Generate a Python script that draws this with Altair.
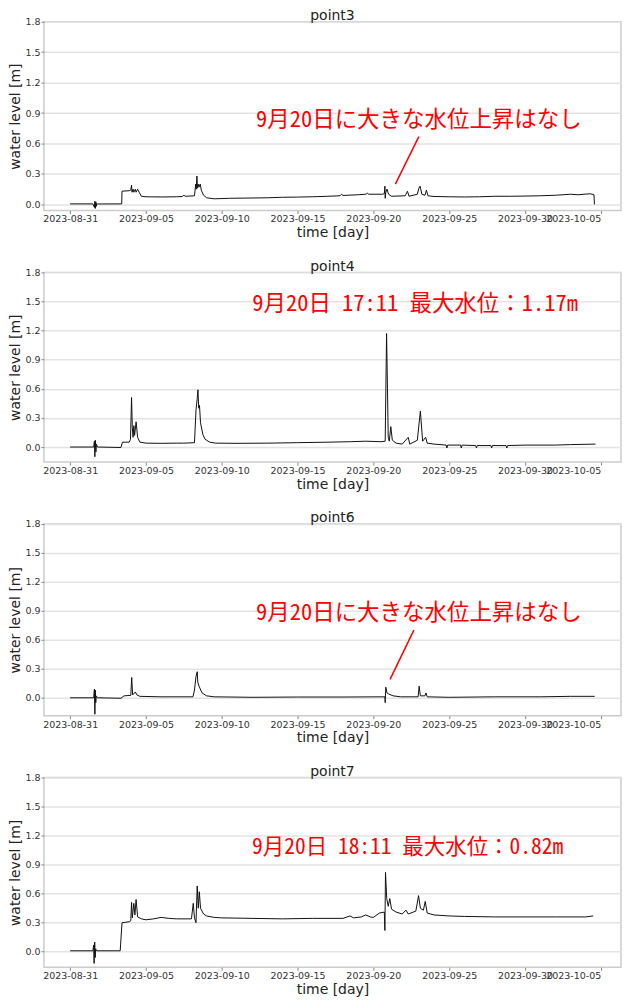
import altair as alt
import pandas as pd

# ---------------- data (days after 2023-08-31 00:00, water level in m) ----------------
p3_day = [0, 1.5, 1.6, 1.63, 1.66, 1.69, 1.72, 1.75, 1.8, 3.4, 3.42, 3.9, 4.0, 4.05, 4.08,
          4.15, 4.2, 4.3, 4.35, 4.45, 4.55, 4.7, 5.0, 6.0, 7.0, 7.4, 7.5, 7.6, 8.2, 8.28,
          8.32, 8.36, 8.4, 8.45, 8.5, 8.58, 8.65, 8.8, 9.0, 9.5, 10.5, 12, 13, 14, 15, 16,
          17, 17.8, 17.9, 18.0, 19, 19.5, 19.6, 19.7, 20.6, 20.72, 20.76, 20.78, 20.82, 20.9,
          21.0, 21.2, 22.1, 22.25, 22.35, 22.9, 23.0, 23.08, 23.2, 23.4, 23.5, 23.6, 24.0,
          25, 26, 27, 28, 29, 30, 31, 32, 33, 33.5, 34.3, 34.55, 34.58]
p3_level = [0.005, 0.005, -0.03, 0.03, -0.04, 0.025, -0.02, 0.01, 0.004, 0.005, 0.13, 0.135,
            0.14, 0.19, 0.12, 0.15, 0.12, 0.15, 0.12, 0.15, 0.12, 0.08, 0.075, 0.073, 0.075,
            0.078, 0.09, 0.08, 0.085, 0.2, 0.15, 0.28, 0.16, 0.2, 0.17, 0.2, 0.14, 0.09, 0.065,
            0.055, 0.06, 0.063, 0.065, 0.07, 0.072, 0.075, 0.08, 0.085, 0.1, 0.088, 0.095, 0.1,
            0.11, 0.1, 0.1, 0.105, 0.18, 0.06, 0.12, 0.15, 0.1, 0.08, 0.085, 0.13, 0.08, 0.1,
            0.16, 0.18, 0.1, 0.09, 0.14, 0.085, 0.078, 0.075, 0.073, 0.075, 0.08, 0.08, 0.082,
            0.085, 0.09, 0.1, 0.095, 0.105, 0.095, 0.0]

p4_day = [0, 1.55, 1.6, 1.63, 1.66, 1.7, 1.73, 1.8, 3.35, 3.45, 3.9, 3.98, 4.05, 4.1, 4.15,
          4.2, 4.25, 4.35, 4.45, 4.6, 5.0, 6.0, 7.0, 7.5, 8.2, 8.3, 8.38, 8.43, 8.48, 8.53,
          8.6, 8.75, 8.9, 9.2, 9.6, 11, 13, 15, 17, 18.5, 19.5, 20.5, 20.78, 20.87, 20.93,
          20.98, 21.05, 21.15, 21.25, 21.5, 21.9, 22.3, 22.4, 22.9, 23.1, 23.25, 23.45, 23.55,
          24.0, 24.8, 24.85, 24.9, 25.75, 25.8, 25.85, 26.75, 26.8, 26.85, 27.75, 27.8, 27.85,
          28.75, 28.8, 28.85, 30, 32, 33, 34.65]
p4_level = [0.0, 0.0, 0.06, -0.1, 0.07, -0.05, 0.03, 0.0, -0.005, 0.05, 0.05, 0.08, 0.51, 0.2,
            0.1, 0.22, 0.12, 0.26, 0.1, 0.05, 0.04, 0.038, 0.04, 0.04, 0.045, 0.38, 0.5, 0.59,
            0.4, 0.43, 0.25, 0.13, 0.08, 0.05, 0.04, 0.038, 0.04, 0.045, 0.05, 0.055, 0.06,
            0.055, 0.06, 1.17, 0.6, 0.1, 0.06, 0.21, 0.07, 0.04, 0.03, 0.1, 0.03, 0.07, 0.37,
            0.06, 0.1, 0.04, 0.03, 0.02, -0.01, 0.02, 0.02, -0.01, 0.02, 0.015, -0.01, 0.015,
            0.015, -0.01, 0.015, 0.015, -0.01, 0.015, 0.02, 0.02, 0.025, 0.03]

p6_day = [0, 1.55, 1.6, 1.63, 1.66, 1.69, 1.72, 1.8, 3.35, 3.55, 4.0, 4.06, 4.12, 4.3, 4.4,
          4.6, 6, 8.1, 8.2, 8.3, 8.38, 8.42, 8.5, 8.7, 9.0, 9.5, 12, 15, 18, 20.5, 20.76,
          20.78, 20.82, 20.9, 21.0, 21.3, 21.8, 22.95, 23.02, 23.1, 23.4, 23.47, 23.55, 25,
          28, 31, 33, 34.6]
p6_level = [0.0, 0.0, 0.09, -0.17, 0.08, -0.05, 0.02, 0.0, -0.005, 0.02, 0.025, 0.21, 0.03,
            0.06, 0.03, 0.015, 0.01, 0.01, 0.08, 0.22, 0.27, 0.16, 0.12, 0.05, 0.02, 0.01,
            0.005, 0.008, 0.008, 0.01, 0.01, -0.05, 0.11, 0.05, 0.04, 0.02, 0.01, 0.01, 0.12,
            0.02, 0.02, 0.05, 0.01, 0.005, 0.01, 0.01, 0.015, 0.015]

p7_day = [0, 1.5, 1.55, 1.58, 1.62, 1.65, 1.68, 1.75, 3.3, 3.42, 3.9, 4.0, 4.05, 4.1, 4.2,
          4.27, 4.35, 4.45, 4.7, 5.0, 5.5, 6.0, 6.5, 7.0, 8.0, 8.12, 8.2, 8.3, 8.38, 8.45,
          8.52, 8.6, 8.8, 9.0, 9.5, 10, 12, 14, 16, 18, 18.45, 18.7, 19.2, 19.5, 19.8, 20.0,
          20.4, 20.72, 20.76, 20.8, 20.88, 20.98, 21.08, 21.2, 21.5, 21.9, 22.15, 22.3, 22.8,
          22.98, 23.1, 23.3, 23.42, 23.55, 24, 25, 26, 28, 30, 32, 34.0, 34.5]
p7_level = [0.01, 0.01, 0.07, -0.12, 0.1, -0.06, 0.03, 0.01, 0.01, 0.3, 0.31, 0.32, 0.51,
            0.35, 0.5, 0.38, 0.54, 0.36, 0.34, 0.33, 0.34, 0.355, 0.345, 0.34, 0.34, 0.5,
            0.35, 0.3, 0.68, 0.45, 0.62, 0.45, 0.39, 0.37, 0.355, 0.35, 0.345, 0.34, 0.345,
            0.345, 0.37, 0.35, 0.36, 0.38, 0.36, 0.355, 0.4, 0.41, 0.22, 0.82, 0.55, 0.47,
            0.55, 0.44, 0.41, 0.39, 0.43, 0.39, 0.42, 0.58, 0.45, 0.43, 0.52, 0.4, 0.38, 0.37,
            0.365, 0.36, 0.36, 0.36, 0.36, 0.37]

panel_names = ["point3", "point4", "point6", "point7"]
y_mins = [-0.06, -0.155, -0.185, -0.16]
panel_heights = [189, 190, 192, 190]

# annotations: (day, level, text)
note_day = [23.0, 22.75, 23.0, 22.26]
note_level = [0.834, 1.475, 0.877, 1.067]
note_text = ["9月20日に大きな水位上昇はなし",
             "9月20日 17:11 最大水位：1.17m",
             "9月20日に大きな水位上昇はなし",
             "9月20日 18:11 最大水位：0.82m"]
note_size = [22.5, 22.5, 22.5, 21.5]

# pointer lines (panel index, day from, level from, day to, level to)
ptr_panel = [0, 2]
ptr_day1 = [23.0, 22.67]
ptr_lvl1 = [0.668, 0.70]
ptr_day2 = [21.45, 21.1]
ptr_lvl2 = [0.20, 0.19]

x_tick_labels = ["2023-08-31", "2023-09-05", "2023-09-10", "2023-09-15", "2023-09-20",
                 "2023-09-25", "2023-09-30", "2023-10-05"]
y_ticks = [0.0, 0.3, 0.6, 0.9, 1.2, 1.5, 1.8]

# ---------------- build ----------------
START = pd.Timestamp("2023-08-31")


def to_time(days):
    return START + pd.to_timedelta(pd.Series(days, dtype=float), unit="D")


def dt(ts):
    return alt.DateTime(year=ts.year, month=ts.month, date=ts.day,
                        hours=ts.hour, minutes=ts.minute)


x_domain = [dt(pd.Timestamp("2023-08-29 06:30")), dt(pd.Timestamp("2023-10-06 08:00"))]
x_values = [dt(pd.Timestamp(s)) for s in x_tick_labels]

series = [(p3_day, p3_level), (p4_day, p4_level), (p6_day, p6_level), (p7_day, p7_level)]

FONT = "DejaVu Sans"
JP = "Noto Sans Mono CJK JP, Noto Sans CJK JP"

panels = []
for i, (days, levels) in enumerate(series):
    df = pd.DataFrame({"time": to_time(days), "level": levels})
    x_enc = alt.X("time:T",
                  scale=alt.Scale(domain=x_domain, nice=False),
                  axis=alt.Axis(values=x_values, tickCount=20, format="%Y-%m-%d",
                                title="time [day]", grid=False, labelFlush=23,
                                labelOverlap=False, labelPadding=0.5, titlePadding=2,
                                tickSize=3))
    y_scale = alt.Scale(domain=[y_mins[i], 1.8], nice=False, zero=False)
    line = alt.Chart(df).mark_line(color="#111111", strokeWidth=1, clip=True,
                                   interpolate="linear").encode(
        x=x_enc,
        y=alt.Y("level:Q", scale=y_scale,
                axis=alt.Axis(values=y_ticks, tickCount=20, format=".1f",
                              title="water level [m]", labelOverlap=False,
                              labelFlush=False, labelPadding=1, titlePadding=2,
                              tickSize=3)),
    )
    ndf = pd.DataFrame({"time": to_time([note_day[i]]), "level": [note_level[i]],
                        "label": [note_text[i]]})
    text = alt.Chart(ndf).mark_text(color="#ff0000", font=JP, fontSize=note_size[i],
                                    align="center", baseline="middle").encode(
        x="time:T", y="level:Q", text="label:N")
    layers = [line, text]
    if i in ptr_panel:
        k = ptr_panel.index(i)
        pdf = pd.DataFrame({"t1": to_time([ptr_day1[k]]), "v1": [ptr_lvl1[k]],
                            "t2": to_time([ptr_day2[k]]), "v2": [ptr_lvl2[k]]})
        rule = alt.Chart(pdf).mark_rule(color="#ff0000", strokeWidth=1.5).encode(
            x="t1:T", y="v1:Q", x2="t2:T", y2="v2:Q")
        layers.append(rule)
    panel = alt.layer(*layers).properties(
        width=578, height=panel_heights[i],
        title=alt.TitleParams(panel_names[i], frame="group", offset=-6.5, fontSize=14,
                              font=FONT, fontWeight="normal", color="#222222"),
    )
    panels.append(panel)

chart = alt.vconcat(*panels, spacing=62, bounds="flush").properties(
    padding={"top": -1, "left": 0, "right": 0, "bottom": 0}
).configure_view(
    stroke="#cccccc", strokeWidth=1.5
).configure_axis(
    domain=False,
    grid=True,
    gridColor="#e3e3e3",
    gridWidth=1.5,
    tickColor="#888888",
    labelFont=FONT,
    labelFontSize=9.5,
    labelColor="#333333",
    titleFont=FONT,
    titleFontSize=14,
    titleFontWeight="normal",
    titleColor="#222222",
)

chart.save("out.html", embed_options={"renderer": "svg", "actions": False})
